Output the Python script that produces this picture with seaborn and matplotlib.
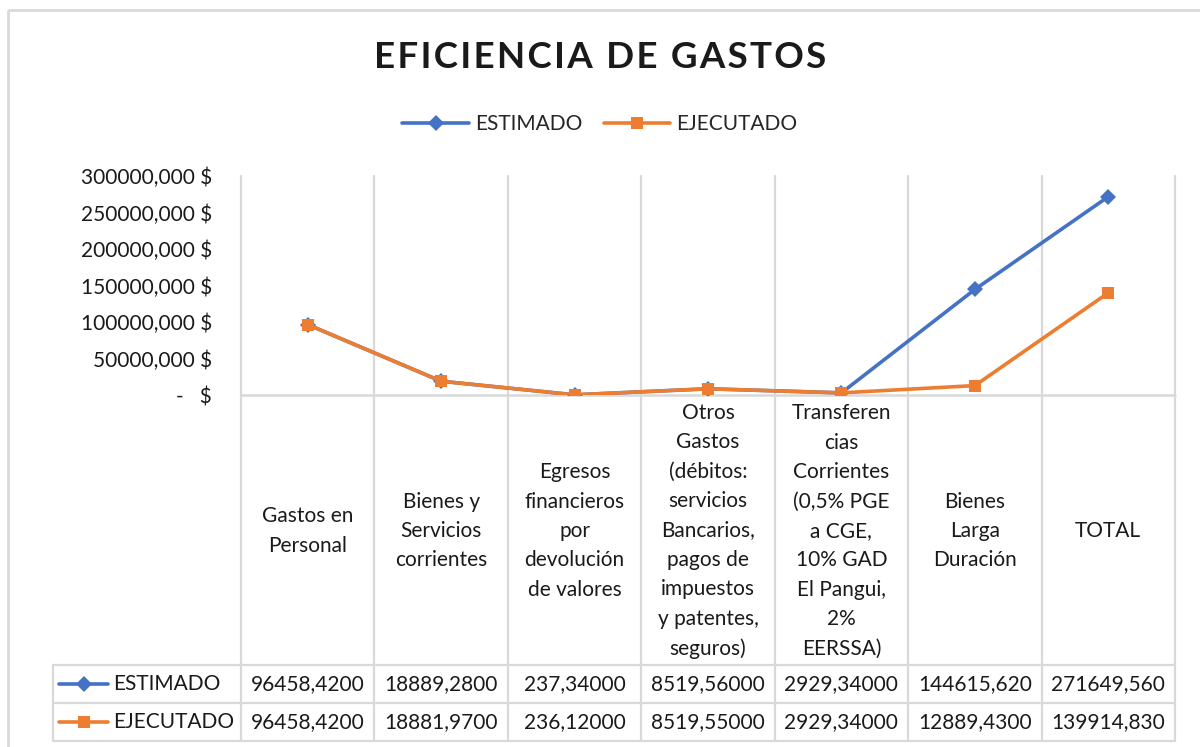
import numpy as np
import pandas as pd
import matplotlib
matplotlib.use("Agg")
import matplotlib.pyplot as plt
import seaborn as sns
from matplotlib.lines import Line2D
from matplotlib.patches import Rectangle

# datos
categorias = ["Gastos en\nPersonal",
              "Bienes y\nServicios\ncorrientes",
              "Egresos\nfinancieros\npor\ndevolución\nde valores",
              "Otros\nGastos\n(débitos:\nservicios\nBancarios,\npagos de\nimpuestos\ny patentes,\nseguros)",
              "Transferen\ncias\nCorrientes\n(0,5% PGE\na CGE,\n10% GAD\nEl Pangui,\n2%\nEERSSA)",
              "Bienes\nLarga\nDuración",
              "TOTAL"]
estimado = [96458.42, 18889.28, 237.34, 8519.56, 2929.34, 144615.62, 271649.56]
ejecutado = [96458.42, 18881.97, 236.12, 8519.55, 2929.34, 12889.43, 139914.83]
series = ["ESTIMADO", "EJECUTADO"]
colores = {"ESTIMADO": "#4472C4", "EJECUTADO": "#ED7D31"}
marcadores = {"ESTIMADO": "D", "EJECUTADO": "s"}
tam_marc = {"ESTIMADO": 8.5, "EJECUTADO": 8.5}
y_ticks = [0, 50000, 100000, 150000, 200000, 250000, 300000]
titulo = "EFICIENCIA DE GASTOS"

n = len(categorias)
df = pd.DataFrame({
    "pos": list(range(n)) * 2,
    "valor": estimado + ejecutado,
    "serie": ["ESTIMADO"] * n + ["EJECUTADO"] * n,
})

def fmt_tabla(v):
    digitos = len(str(int(v)))
    dec = min(5, 9 - digitos)
    return f"{v:.{dec}f}".replace(".", ",")

def fmt_eje(v):
    if v == 0:
        return "-   $"
    return f"{v:.3f}".replace(".", ",") + " $"

sns.set_theme(style="white")
plt.rcParams["font.family"] = ["Lato", "DejaVu Sans"]

W, H = 1200, 747
FS = 15
fig = plt.figure(figsize=(W / 100, H / 100), dpi=100)
GRIS = "#D9D9D9"
TXT = "#1a1a1a"

# layout en pixeles
x0, x1 = 241, 1175
y_top, y_zero = 176, 395
t_left, row1, row2, t_bot = 53, 665, 703, 741

ax = fig.add_axes([x0 / W, 1 - y_zero / H, (x1 - x0) / W, (y_zero - y_top) / H])
sns.lineplot(data=df, x="pos", y="valor", hue="serie", style="serie",
             hue_order=series, palette=colores, markers=marcadores, dashes=False,
             linewidth=2.6, markersize=8.5, markeredgewidth=0, legend=False, ax=ax)
ax.set_xlim(-0.5, n - 0.5)
ax.set_ylim(0, 300000)
ax.set_xlabel("")
ax.set_ylabel("")
ax.set_xticks([])
ax.set_yticks(y_ticks)
ax.set_yticklabels([fmt_eje(v) for v in y_ticks], fontsize=FS, color=TXT)
ax.tick_params(axis="y", length=0, pad=21)
for s in ax.spines.values():
    s.set_visible(False)
ax.patch.set_alpha(0)

# capa en pixeles para la tabla y bordes
ov = fig.add_axes([0, 0, 1, 1], zorder=-1)
ov.set_xlim(0, W)
ov.set_ylim(H, 0)
ov.axis("off")
ov.add_patch(Rectangle((8, 10), W, H, fill=False, edgecolor=GRIS, lw=2))

bordes = np.linspace(x0, x1, n + 1)
for b in bordes:
    ov.plot([b, b], [y_top, t_bot], color=GRIS, lw=1.6)
ov.plot([x0, x1], [y_zero, y_zero], color=GRIS, lw=1.8)
for yy in [row1, row2, t_bot]:
    ov.plot([t_left, x1], [yy, yy], color=GRIS, lw=1.6)
ov.plot([t_left, t_left], [row1, t_bot], color=GRIS, lw=1.6)

centros = (bordes[:-1] + bordes[1:]) / 2
for c, lab in zip(centros, categorias):
    ov.text(c, (y_zero + row1) / 2 + 1, lab, ha="center", va="center",
            fontsize=FS, color=TXT, linespacing=1.59)

for yy, serie, vals in [((row1 + row2) / 2, "ESTIMADO", estimado),
                        ((row2 + t_bot) / 2, "EJECUTADO", ejecutado)]:
    ov.plot([59, 108], [yy, yy], color=colores[serie], lw=2.6, solid_capstyle="round")
    ov.plot([83.5], [yy], marker=marcadores[serie], color=colores[serie],
            markersize=tam_marc[serie], markeredgewidth=0)
    ov.text(113, yy, serie, ha="left", va="center", fontsize=FS, color=TXT)
    for c, v in zip(centros, vals):
        ov.text(c, yy, fmt_tabla(v), ha="center", va="center", fontsize=FS, color=TXT)

# titulo con espaciado entre letras
fig.text(0.5, 1 - 58 / H, "\u200a".join(titulo), ha="center", va="center",
         fontsize=26.5, fontweight="bold", color=TXT,
         family=["Lato", "DejaVu Sans"])

handles = [Line2D([], [], color=colores[s], lw=2.6, marker=marcadores[s],
                  markersize=tam_marc[s], markeredgewidth=0) for s in series]
fig.legend(handles, series, loc="center", bbox_to_anchor=(0.5, 1 - 124 / H),
           ncol=2, frameon=False, fontsize=FS, handlelength=3.2,
           columnspacing=1.0, handletextpad=0.3)

fig.savefig("out.png", dpi=100)
